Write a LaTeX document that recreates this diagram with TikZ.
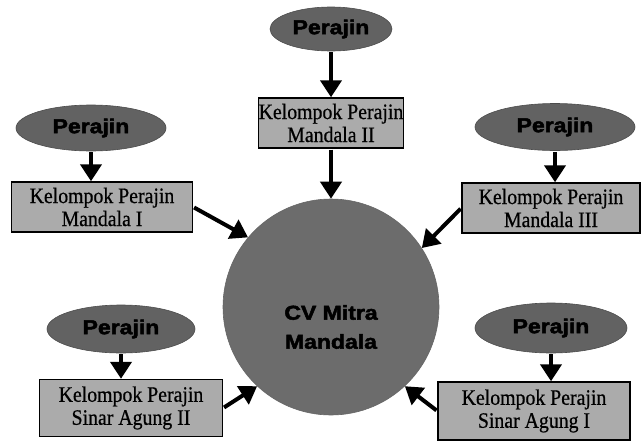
\documentclass[tikz,border=0pt]{standalone}
\usepackage{fontspec}
\setmainfont{Liberation Serif}
\newfontfamily\boxfont{Liberation Serif}[FakeStretch=0.9,FakeBold=0.6]
\newfontfamily\heavy{Liberation Sans}[FakeStretch=1.15,FakeBold=2.5]
\usetikzlibrary{shapes.geometric,arrows.meta}
\definecolor{ellfill}{HTML}{626262}
\definecolor{boxfill}{HTML}{ABABAB}
\definecolor{circfill}{HTML}{6C6C6C}
\tikzset{
  perajin/.style={ellipse, draw=black!70, line width=0.6pt, fill=ellfill, inner sep=0pt,
    font=\heavy\bfseries\fontsize{20}{22}\selectfont},
  kbox/.style={rectangle, draw=black, line width=1.4pt, fill=boxfill, inner sep=0pt,
    align=center, font=\boxfont\fontsize{22}{23}\selectfont},
  bigarrow/.style={line width=4pt, -{Triangle[length=17pt,width=21pt]}, shorten <=1pt},
}
\begin{document}
\begin{tikzpicture}[x=1pt,y=-1pt]
\useasboundingbox (0,0) rectangle (644,442);
% centre
\node[circle, fill=circfill, draw=black!60, line width=0.6pt, minimum size=216pt, inner sep=0pt] (c) at (331,307) {};
\node[align=center, font=\heavy\bfseries\fontsize{20}{29}\selectfont] (ct) at (331,327) {CV Mitra\\Mandala};
% ellipses
\node[perajin, minimum width=122pt, minimum height=44pt] (e2) at (331,29) {Perajin};
\node[perajin, minimum width=150pt, minimum height=46pt] (e1) at (91,128) {Perajin};
\node[perajin, minimum width=160pt, minimum height=47pt] (e3) at (555,127) {Perajin};
\node[perajin, minimum width=148pt, minimum height=48pt] (e4) at (121,329) {Perajin};
\node[perajin, minimum width=152pt, minimum height=50pt] (e5) at (551,328) {Perajin};
% boxes
\node[kbox, minimum width=140pt, minimum height=50pt] (b2) at (331,123) {Kelompok Perajin\\Mandala II};
\node[kbox, minimum width=181pt, minimum height=50pt] (b1) at (102,207) {Kelompok Perajin\\Mandala I};
\node[kbox, minimum width=178pt, minimum height=50pt] (b3) at (551,208) {Kelompok Perajin\\Mandala III};
\node[kbox, minimum width=183pt, minimum height=57pt] (b4) at (131,408) {Kelompok Perajin\\Sinar Agung II};
\node[kbox, minimum width=192pt, minimum height=58pt] (b5) at (534,411) {Kelompok Perajin\\Sinar Agung I};
% arrows ellipse -> box
\draw[bigarrow] (e2.south) -- (b2.north);
\draw[bigarrow] (e1.south) -- (b1.north -| e1.south);
\draw[bigarrow] (e3.south) -- (b3.north -| e3.south);
\draw[bigarrow] (e4.south) -- (b4.north -| e4.south);
\draw[bigarrow] (e5.south) -- (b5.north -| e5.south);
% arrows box -> centre
\draw[bigarrow] (b2.south) -- (c.north);
\draw[bigarrow] (b1.east) -- (c.140);
\draw[bigarrow] (b3.west) -- (c.33);
\draw[bigarrow] (b4.east) -- (c.227);
\draw[bigarrow] (b5.west) -- (c.313);
\end{tikzpicture}
\end{document}
